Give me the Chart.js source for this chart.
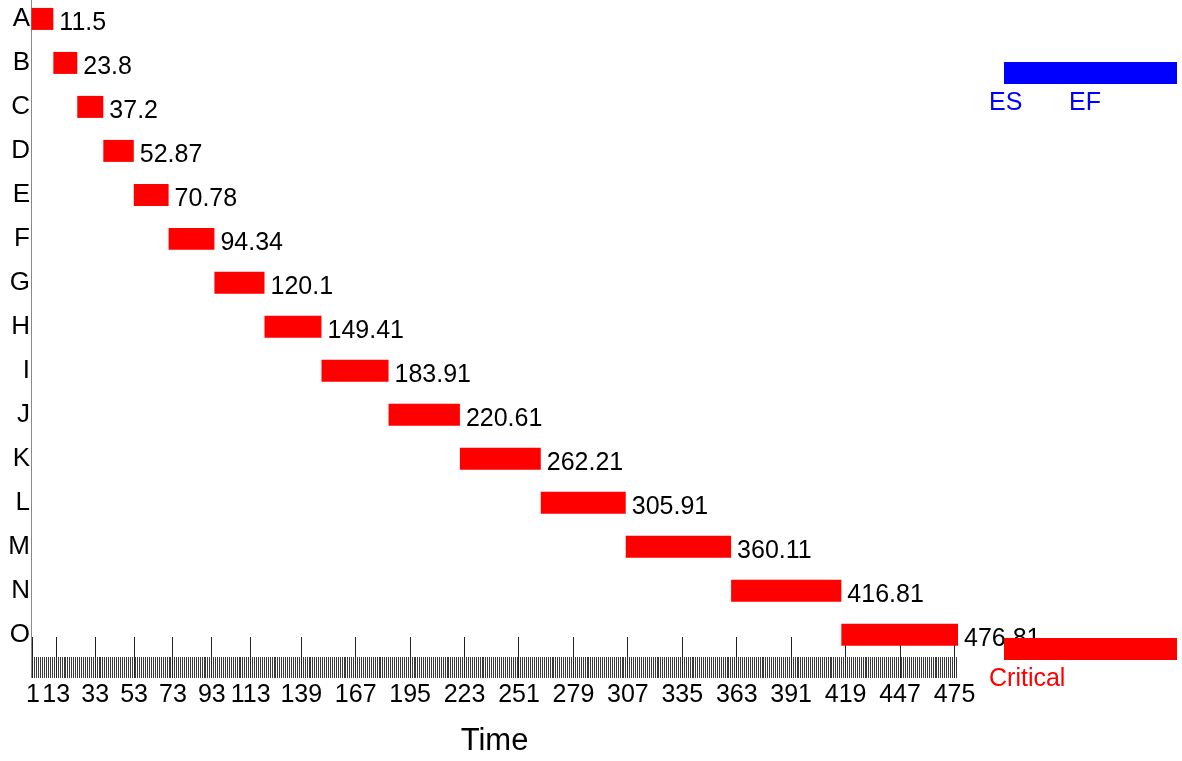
<!DOCTYPE html>
<html>
<head>
<meta charset="utf-8">
<title>Critical path</title>
<script src="https://cdn.jsdelivr.net/npm/chart.js@4.4.1/dist/chart.umd.min.js"></script>
<style>
  html, body { margin: 0; padding: 0; background: #fff; }
</style>
</head>
<body>
<canvas id="gantt" width="1182" height="761"></canvas>
<script>
const tasks = ["A", "B", "C", "D", "E", "F", "G", "H", "I", "J", "K", "L", "M", "N", "O"];
const earlyStart = [0, 11.5, 23.8, 37.2, 52.87, 70.78, 94.34, 120.1, 149.41, 183.91, 220.61, 262.21, 305.91, 360.11, 416.81];
const earlyFinish = [11.5, 23.8, 37.2, 52.87, 70.78, 94.34, 120.1, 149.41, 183.91, 220.61, 262.21, 305.91, 360.11, 416.81, 476.81];
const critical = [true, true, true, true, true, true, true, true, true, true, true, true, true, true, true];
const timeTicks = [1, 13, 33, 53, 73, 93, 113, 139, 167, 195, 223, 251, 279, 307, 335, 363, 391, 419, 447, 475];

const RED = "#ff0000";
const BLUE = "#0000ff";
const FONT = '"Liberation Sans", Arial, sans-serif';

Chart.defaults.font.family = FONT;
Chart.defaults.color = "#000";

// one tick per time unit, only the listed ones get a label
const unitTicks = [];
for (let t = 0; t <= Math.floor(earlyFinish[earlyFinish.length - 1]); t++) unitTicks.push(t);

// EF value printed after each bar
const finishLabels = {
  id: "finishLabels",
  afterDatasetsDraw(chart) {
    const ctx = chart.ctx;
    const meta = chart.getDatasetMeta(0);
    ctx.save();
    ctx.font = "25px " + FONT;
    ctx.fillStyle = "#000";
    ctx.textAlign = "left";
    ctx.textBaseline = "middle";
    meta.data.forEach((bar, i) => {
      ctx.fillText(String(earlyFinish[i]), Math.max(bar.x, bar.base) + 6, bar.y + 4);
    });
    ctx.restore();
  }
};

// key on the right: normal task (ES..EF) and critical task
const keyBox = {
  id: "keyBox",
  afterDraw(chart) {
    const ctx = chart.ctx;
    const left = chart.chartArea.right + 46;
    const right = chart.width - 5;
    ctx.save();
    ctx.font = "25px " + FONT;
    ctx.textAlign = "left";
    ctx.textBaseline = "middle";

    ctx.fillStyle = BLUE;
    ctx.fillRect(left, 62, right - left, 22);
    ctx.fillText("ES", left - 15, 103);
    ctx.fillText("EF", left + 65, 103);

    ctx.fillStyle = RED;
    ctx.fillRect(left, 638, right - left, 22);
    ctx.fillText("Critical", left - 15, 679);
    ctx.restore();
  }
};

new Chart(document.getElementById("gantt"), {
  type: "bar",
  plugins: [finishLabels, keyBox],
  data: {
    datasets: [{
      data: tasks.map((t, i) => ({ y: i, x: [earlyStart[i], earlyFinish[i]] })),
      backgroundColor: critical.map(c => (c ? RED : BLUE)),
      borderWidth: 0,
      barPercentage: 0.5,
      categoryPercentage: 1,
      clip: false
    }]
  },
  options: {
    indexAxis: "y",
    responsive: false,
    animation: false,
    layout: { padding: { top: 0, left: 0, bottom: 0, right: 224 } },
    plugins: {
      legend: { display: false },
      tooltip: { enabled: false }
    },
    scales: {
      x: {
        type: "linear",
        position: "bottom",
        min: 0,
        max: earlyFinish[earlyFinish.length - 1],
        z: 1,
        afterBuildTicks: scale => { scale.ticks = unitTicks.map(v => ({ value: v })); },
        afterFit: scale => { scale.height = 124; },
        border: { display: false },
        grid: {
          drawOnChartArea: false,
          drawTicks: true,
          tickLength: 41,
          tickWidth: 1,
          tickColor: ctx => {
            const v = ctx.tick.value;
            if (v === 0) return "#888";
            return timeTicks.includes(v) ? "#222" : "#3a3a3a";
          },
          tickBorderDash: ctx => {
            const v = ctx.tick.value;
            return v === 0 || timeTicks.includes(v) ? [] : [0, 20, 21, 0];
          }
        },
        ticks: {
          autoSkip: false,
          maxRotation: 0,
          minRotation: 0,
          padding: 2,
          font: { size: 25 },
          callback: v => (timeTicks.includes(v) ? String(v) : "")
        },
        title: {
          display: true,
          text: "Time",
          font: { size: 31 },
          padding: { top: 0, bottom: 1 }
        }
      },
      y: {
        type: "linear",
        reverse: true,
        offset: false,
        min: -0.43,
        max: 14.05,
        afterBuildTicks: scale => { scale.ticks = tasks.map((t, i) => ({ value: i })); },
        afterFit: scale => {
          scale.width = 31;
          scale.paddingTop = 0;
          scale.paddingBottom = 0;
        },
        grid: { display: false, drawTicks: false, offset: false },
        border: { display: true, color: "#888", width: 1 },
        ticks: {
          padding: 1,
          font: { size: 26 },
          callback: v => tasks[v]
        }
      }
    }
  }
});
</script>
</body>
</html>
